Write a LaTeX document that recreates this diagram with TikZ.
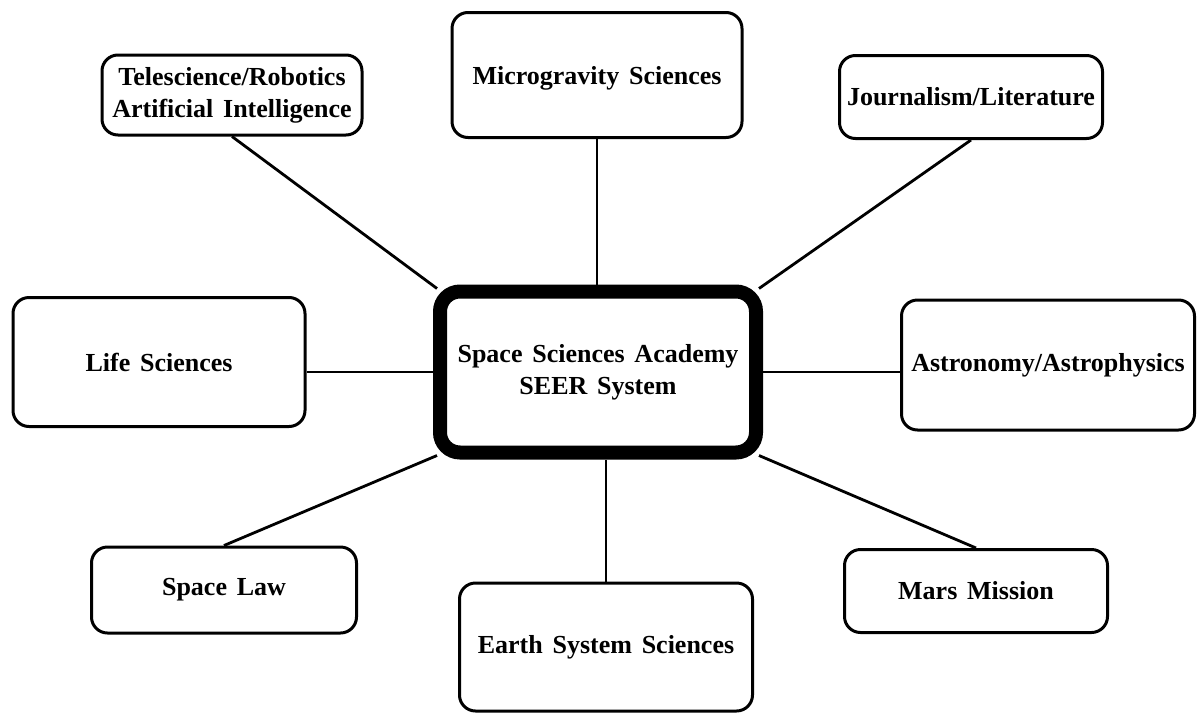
\documentclass[tikz,border=0pt]{standalone}
\usepackage{fontspec}
\setmainfont{Liberation Serif}[WordSpace=1.5]
\usepackage{tikz}
\usetikzlibrary{positioning}
\tikzstyle{topic} = [rectangle, rounded corners=8pt, draw=black, line width=1.5pt, inner sep=0pt, align=center, font=\fontsize{13}{16}\selectfont\bfseries]
\tikzstyle{hub} = [rectangle, rounded corners=10pt, draw=black, line width=7pt, inner sep=0pt, align=center, font=\fontsize{13}{16}\selectfont\bfseries]
\tikzstyle{link} = [line width=1.4pt]

\begin{document}
\begin{tikzpicture}[x=0.5pt,y=-0.5pt]
    \useasboundingbox (0,0) rectangle (1199,718);
    % centre
    \node[hub, minimum width=158pt, minimum height=80.5pt] (seer) at (598,372) {Space Sciences Academy\\SEER System};
    % top row
    \node[topic, minimum width=130pt, minimum height=40pt] (tele) at (232,95) {Telescience/Robotics\\Artificial Intelligence};
    \node[topic, minimum width=145pt, minimum height=62.5pt, text depth=-3pt] (micro) at (597,75) {Microgravity Sciences};
    \node[topic, minimum width=131.5pt, minimum height=41.5pt] (journ) at (971,97) {Journalism/Literature};
    % middle row
    \node[topic, minimum width=146pt, minimum height=64.5pt] (life) at (159,362) {Life Sciences};
    \node[topic, minimum width=146.5pt, minimum height=65pt] (astro) at (1048,365) {Astronomy/Astrophysics};
    % bottom row
    \node[topic, minimum width=132.5pt, minimum height=43pt] (law) at (224,590) {Space Law};
    \node[topic, minimum width=146.5pt, minimum height=64pt] (earth) at (606,647) {Earth System Sciences};
    \node[topic, minimum width=131.5pt, minimum height=41.5pt] (mars) at (976,591) {Mars Mission};
    % spokes
    \draw[link] (tele.south) -- ([shift={(4,4)}]seer.north west);
    \draw[link] (micro.south) -- (micro.south |- seer.north);
    \draw[link] (journ.south) -- ([shift={(-4,4)}]seer.north east);
    \draw[link] (seer.west) -- (seer.west -| life.east);
    \draw[link] (seer.east) -- (seer.east -| astro.west);
    \draw[link] (law.north) -- ([shift={(4,-4)}]seer.south west);
    \draw[link] (earth.north) -- (earth.north |- seer.south);
    \draw[link] (mars.north) -- ([shift={(-4,-4)}]seer.south east);
\end{tikzpicture}
\end{document}
